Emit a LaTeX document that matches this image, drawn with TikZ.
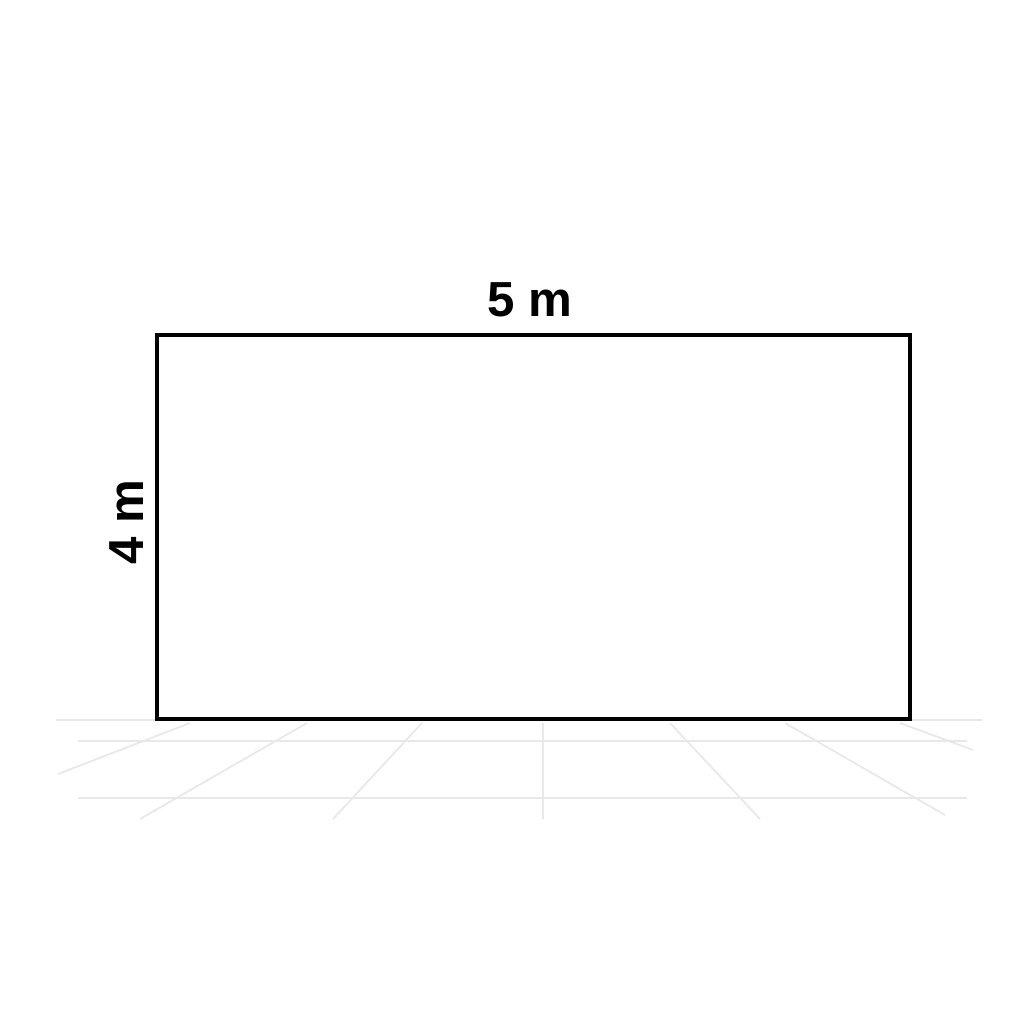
\documentclass[tikz,border=0pt]{standalone}
\usepackage{fontspec}
\setmainfont{Liberation Sans}
\usetikzlibrary{positioning}

\begin{document}
\begin{tikzpicture}[x=0.01cm,y=-0.01cm]
\tikzstyle{floor} = [
	draw=black!9, %light floor lines
	line width=0.5pt
];
\tikzstyle{wall} = [
	draw=black,
	line width=0.9pt
];
\tikzstyle{size} = [
	font=\bfseries\fontsize{14}{16}\selectfont,
	inner sep=1pt
];

\useasboundingbox (0,0) rectangle (1024,1024);

%floor grid
\draw[floor]
	(56,720) -- (157,720)
	(910,720) -- (982,720)
	(78,741) -- (967,741)
	(78,798) -- (967,798)
	(190,723) -- (58,774)
	(307,723) -- (140,819)
	(422,723) -- (333,819)
	(543,723) -- (543,819)
	(670,723) -- (760,819)
	(785,723) -- (945,815)
	(900,723) -- (973,750)
;

%the wall
\coordinate (A) at (157,719);
\coordinate (B) at (910,335);
\draw[wall] (A) rectangle (B);

%dimensions
\node[size] (width) at (530,300) {5 m};
\node[size, rotate=90] (height) at (127,522) {4 m};

\end{tikzpicture}
\end{document}
